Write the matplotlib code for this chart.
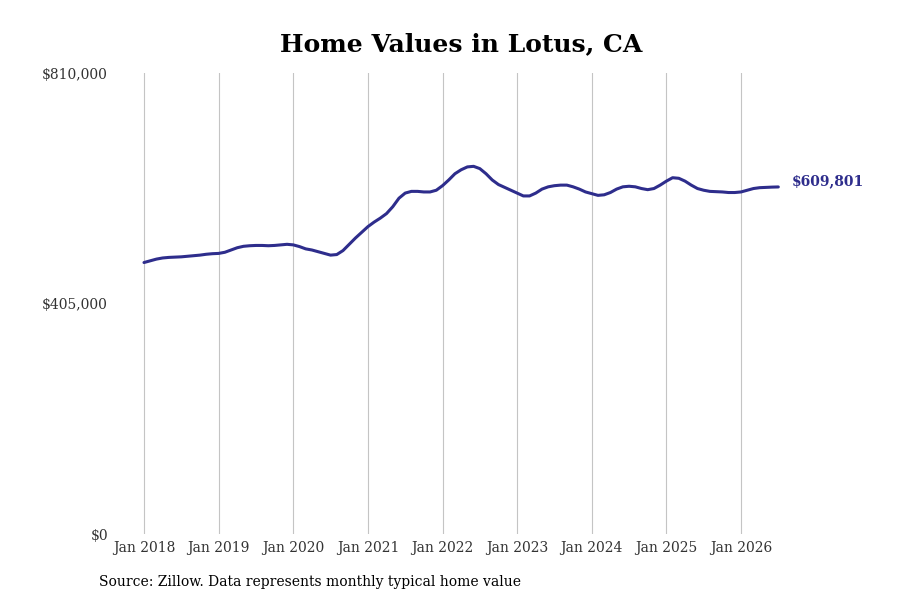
import matplotlib
matplotlib.use("Agg")
import matplotlib.pyplot as plt

plt.rcParams['font.family'] = ['DejaVu Serif']

# Monthly typical home value, Jan 2018 .. Jul 2026 (in $)
values_k = [
    # 2018
    477, 480, 483, 485, 486, 486.5, 487, 488, 489, 490, 491.5, 492.5,
    # 2019
    493, 495, 499, 503, 505.5, 506.5, 507, 507, 506.5, 507, 508, 509,
    # 2020
    508, 505, 501, 499, 496, 493, 490, 491, 498, 509, 520, 530,
    # 2021
    540, 548, 555, 563, 575, 590, 599, 602, 602, 601, 601, 604,
    # 2022
    612, 622, 633, 640, 645, 646, 642, 633, 622, 614, 609, 604,
    # 2023
    599, 594, 594, 599, 606, 610, 612, 613, 613, 610, 606, 601,
    # 2024
    598, 595, 596, 600, 606, 610, 611, 610, 607, 605, 607, 613,
    # 2025
    620, 626, 625, 620, 613, 607, 604, 602, 601.5, 601, 600, 600,
    # 2026
    601, 604, 607, 608.5, 609, 609.5, 609.801,
]
values = [v * 1000 for v in values_k]
last_label = "$609,801"

tick_labels = ["Jan 2018", "Jan 2019", "Jan 2020", "Jan 2021", "Jan 2022",
               "Jan 2023", "Jan 2024", "Jan 2025", "Jan 2026"]
y_ticks = [0, 405000, 810000]
y_labels = ["$0", "$405,000", "$810,000"]

months = list(range(len(values)))
tick_pos = [12 * i for i in range(len(tick_labels))]

fig = plt.figure(figsize=(9, 6), dpi=100)
ax = fig.add_axes([115/900, 1 - 534/600, (780-115)/900, (534-73)/600])

line_color = '#2e2d8c'
ax.plot(months, values, color=line_color, lw=2.2, solid_capstyle='round', clip_on=False)

ax.set_ylim(0, 810000)
px_per_month = (741 - 144) / 96
ax.set_xlim(-(144 - 115) / px_per_month, (780 - 144) / px_per_month)

ax.set_xticks(tick_pos)
ax.set_xticklabels(tick_labels, fontsize=10, color='#333333')
ax.set_yticks(y_ticks)
ax.set_yticklabels(y_labels, fontsize=10, color='#333333')
ax.tick_params(axis='both', length=0)
ax.tick_params(axis='x', pad=5)
ax.tick_params(axis='y', pad=5)
ax.grid(axis='x', color='#c4c4c4', lw=0.8)
ax.grid(axis='y', visible=False)
for s in ax.spines.values():
    s.set_visible(False)

ax.annotate(last_label, xy=(months[-1], values[-1]), xytext=(10, 4),
            textcoords='offset points', ha='left', va='center',
            fontsize=10, fontweight='bold', color=line_color)

fig.text(0.512, 1 - 44/600, "Home Values in Lotus, CA", ha='center', va='center',
         fontsize=18, fontweight='bold', color='black')
fig.text(99/900, 1 - 582/600, "Source: Zillow. Data represents monthly typical home value",
         ha='left', va='center', fontsize=10, color='black')

fig.savefig("out.png", dpi=100)
